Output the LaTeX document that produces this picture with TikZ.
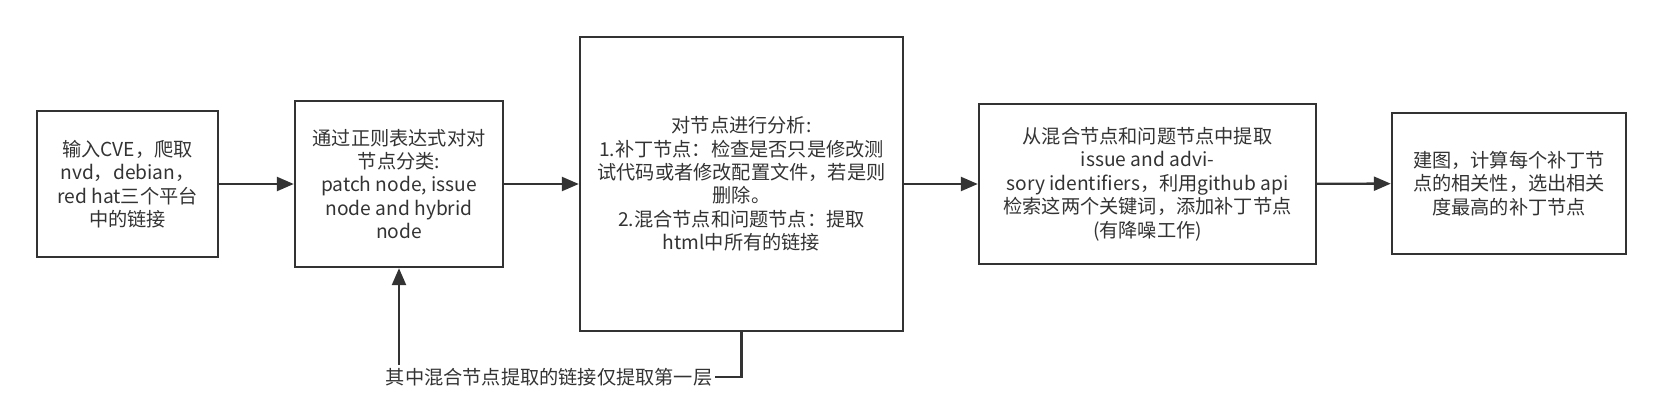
\documentclass[tikz,border=0pt]{standalone}
\usepackage{fontspec}
\setmainfont{Noto Sans CJK SC}
\usepackage{color}
\usetikzlibrary{arrows.meta}
\usetikzlibrary{positioning}
\definecolor{linegray}{HTML}{333333}

\begin{document}
\begin{tikzpicture}[x=0.5pt, y=-0.5pt,
                    box/.style={draw=linegray, line width=1.2pt, align=center, inner sep=0pt, text=linegray, font=\fontsize{9.6pt}{11.7pt}\selectfont},
                    link/.style={->, >={Triangle[length=8.5pt, width=7pt]}, line width=1.2pt, draw=linegray}]
                    \useasboundingbox (0, 0) rectangle (1662, 413);
                    \node[box, minimum width=90.5pt, minimum height=73pt](crawl) at (127.5, 184){输入CVE，爬取\\nvd，debian，\\red hat三个平台\\中的链接};
                    \node[box, minimum width=104pt, minimum height=83pt](classify) at (399, 184){通过正则表达式对对\\节点分类:\\patch node, issue\\node and hybrid\\node};
                    \node[box, minimum width=161.5pt, minimum height=147pt](analyse) at (741.5, 184){对节点进行分析:\\1.补丁节点：检查是否只是修改测\\试代码或者修改配置文件，若是则\\删除。\\2.混合节点和问题节点：提取\\html中所有的链接};
                    \node[box, minimum width=168.5pt, minimum height=80pt](search) at (1147.5, 184){从混合节点和问题节点中提取\\issue and advi-\\sory identifiers，利用github api\\检索这两个关键词，添加补丁节点\\(有降噪工作)};
                    \node[box, minimum width=117pt, minimum height=70.5pt](graph) at (1509, 183.5){建图，计算每个补丁节\\点的相关性，选出相关\\度最高的补丁节点};
                    \node[box, draw=none, inner sep=1pt](note) at (549, 377){其中混合节点提取的链接仅提取第一层};
                    \draw[link](crawl)--(classify);
                    \draw[link](classify)--(analyse);
                    \draw[link](analyse)--(search);
                    \draw[link](search)--(graph);
                    \draw[line width=1.2pt, draw=linegray](analyse.south)|-(note.east);
                    \draw[link](note.north -| classify.south)--(classify.south);
                \end{tikzpicture}
\end{document}
